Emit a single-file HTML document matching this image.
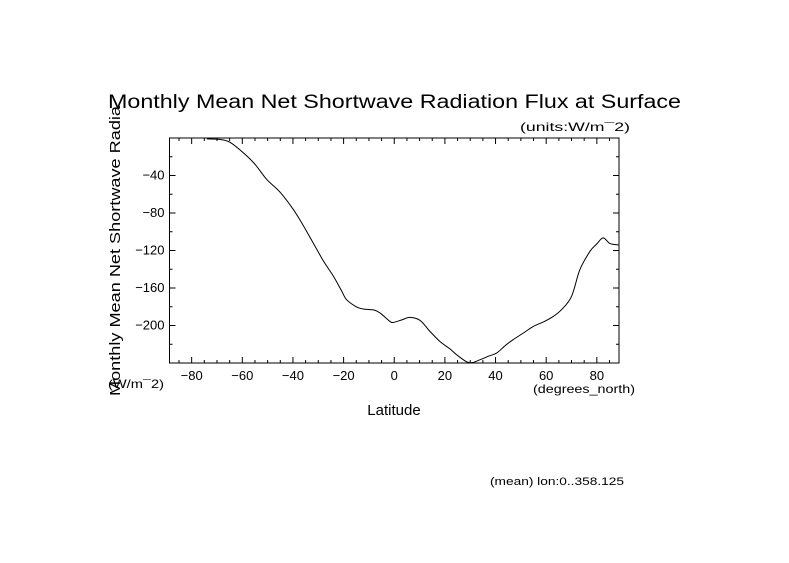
<!DOCTYPE html>
<html><head><meta charset="utf-8"><style>
html,body{margin:0;padding:0;background:#fff;}
svg text{font-family:"Liberation Sans",sans-serif;fill:#000;}
</style></head><body>
<svg id="chart" width="789" height="558" viewBox="0 0 789 558" xmlns="http://www.w3.org/2000/svg">
<rect x="0" y="0" width="789" height="558" fill="#fff"/>
<text x="108" y="108" font-size="19" textLength="573" lengthAdjust="spacingAndGlyphs">Monthly Mean Net Shortwave Radiation Flux at Surface</text>
<text x="520" y="131" font-size="12" textLength="110" lengthAdjust="spacingAndGlyphs">(units:W/m¯2)</text>
<text transform="translate(120,396) rotate(-90)" font-size="15" textLength="290" lengthAdjust="spacingAndGlyphs">Monthly Mean Net Shortwave Radia</text>
<text x="108" y="388" font-size="12" textLength="56" lengthAdjust="spacingAndGlyphs">(W/m¯2)</text>
<text x="533" y="393" font-size="12" textLength="102" lengthAdjust="spacingAndGlyphs">(degrees_north)</text>
<text x="394" y="415" font-size="15" text-anchor="middle">Latitude</text>
<text x="490" y="485" font-size="11" textLength="134" lengthAdjust="spacingAndGlyphs">(mean) lon:0..358.125</text>
<rect x="169.5" y="138" width="449.5" height="225" fill="none" stroke="#000" stroke-width="1"/>
<g id="ticks"></g>
<g id="series"></g>
</svg>
<script>
const lats = [-74,-69,-65,-59.6,-55,-50.4,-45,-39.9,-36,-32,-28,-24,-21,-18.8,-15,-12.2,-8,-5.6,-1.7,-0.4,3,6.2,10.2,14,18,22,25,28.6,31,33.8,37,40.4,44,47,51,54.9,59,62.8,66.1,70,73.3,77.3,80,82.5,85.2,88.5];
const flux = [-1,-1.5,-4.4,-15.8,-28,-44,-58,-76,-93,-112,-131,-147.6,-162,-172.5,-180,-182.4,-183.5,-186.7,-195.6,-196.7,-194,-191.4,-194.6,-206,-217,-225,-232,-238.7,-239.5,-236.6,-233,-229.4,-221,-215,-208,-201,-196,-190.3,-183,-169,-140.4,-120.9,-113,-106.6,-112.6,-114];
const xTickLabels = [-80,-60,-40,-20,0,20,40,60,80];
const yTickLabels = [-40,-80,-120,-160,-200];
const X0=169.5,X1=619,Y0=138,Y1=363;
const xMin=-88.75,xMax=88.75,yMin=-240,yMax=0;
function sx(v){return X0+(v-xMin)/(xMax-xMin)*(X1-X0);}
function sy(v){return Y0+(yMax-v)/(yMax-yMin)*(Y1-Y0);}
const NS='http://www.w3.org/2000/svg';
const tg=document.getElementById('ticks');
function line(x1,y1,x2,y2,name){const l=document.createElementNS(NS,'line');l.setAttribute('x1',x1);l.setAttribute('y1',y1);l.setAttribute('x2',x2);l.setAttribute('y2',y2);l.setAttribute('stroke','#000');


tg.appendChild(l);}
for(let v=-85;v<=85;v+=5){const x=sx(v);const len=(v%20===0)?6:3;line(x,Y1,x,Y1-len,'x-tick');line(x,Y0,x,Y0+len,'x-tick-top');}
for(let v=-220;v<0;v+=20){const y=sy(v);const len=(v%40===0)?6:3;line(X0,y,X0+len,y,'y-tick');line(X1,y,X1-len,y,'y-tick-right');}
xTickLabels.forEach(v=>{const t=document.createElementNS(NS,'text');t.setAttribute('x',sx(v));t.setAttribute('y',Y1+17);t.setAttribute('font-size','13');t.setAttribute('text-anchor','middle');t.textContent=String(v).replace('-','\u2212');


tg.appendChild(t);});
yTickLabels.forEach(v=>{const t=document.createElementNS(NS,'text');t.setAttribute('x',X0-5);t.setAttribute('y',sy(v)+4);t.setAttribute('font-size','13');t.setAttribute('text-anchor','end');t.textContent=String(v).replace('-','\u2212');


tg.appendChild(t);});
const pts=lats.map((v,i)=>[sx(v),sy(flux[i])]);
let d='M'+pts[0][0].toFixed(1)+','+pts[0][1].toFixed(1);
for(let i=0;i<pts.length-1;i++){const p0=pts[Math.max(0,i-1)],p1=pts[i],p2=pts[i+1],p3=pts[Math.min(pts.length-1,i+2)];
const c1=[p1[0]+(p2[0]-p0[0])/6,p1[1]+(p2[1]-p0[1])/6],c2=[p2[0]-(p3[0]-p1[0])/6,p2[1]-(p3[1]-p1[1])/6];
d+=' C'+c1.map(n=>n.toFixed(1)).join(',')+' '+c2.map(n=>n.toFixed(1)).join(',')+' '+p2.map(n=>n.toFixed(1)).join(',');}
const p=document.createElementNS(NS,'path');
p.setAttribute('d',d);
p.setAttribute('fill','none');p.setAttribute('stroke','#000');p.setAttribute('stroke-width','1');


document.getElementById('series').appendChild(p);
</script>
</body></html>
